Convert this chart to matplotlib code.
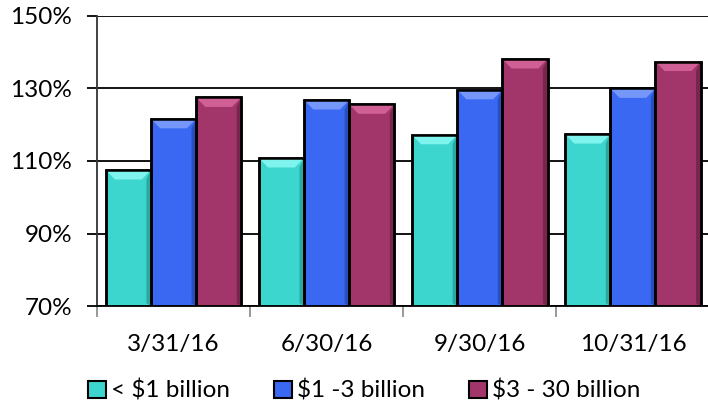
import matplotlib
matplotlib.use("Agg")
import matplotlib.pyplot as plt
from matplotlib.patches import Polygon, Patch
import numpy as np

categories = ["3/31/16", "6/30/16", "9/30/16", "10/31/16"]
series_names = ["< $1 billion", "$1 -3 billion", "$3 - 30 billion"]
small = [107.5, 110.8, 117.2, 117.4]
mid = [121.6, 126.8, 129.6, 130.0]
large = [127.5, 125.6, 138.1, 137.4]
yticks = [70, 90, 110, 130, 150]

colors = ["#3DD6CE", "#3A68F2", "#A2366A"]
light = ["#7FF3EE", "#7597FA", "#D05F95"]
dark = ["#1E8C86", "#1F3F9E", "#5E1B3C"]

plt.rcParams['font.family'] = ['Lato', 'DejaVu Sans']

fig = plt.figure(figsize=(7.08, 4.07), dpi=100)
ax = fig.add_axes([0.137, 0.248, 0.865, 0.713])

x = np.arange(len(categories))
w = 0.295
data = [small, mid, large]
for i, vals in enumerate(data):
    pos = x + (i - 1) * w
    bars = ax.bar(pos, np.array(vals) - 70, w, bottom=70, color=colors[i],
                  edgecolor="black", linewidth=1.8, zorder=3)
    for b in bars:
        x0, x1 = b.get_x(), b.get_x() + b.get_width()
        top = b.get_y() + b.get_height()
        ix = 0.06
        iy = 2.6
        # top bevel
        ax.add_patch(Polygon([(x0, top), (x1, top), (x1 - ix, top - iy), (x0 + ix, top - iy)],
                             closed=True, facecolor=light[i], edgecolor="none", zorder=4))
        # right side shading
        ax.add_patch(Polygon([(x1, top), (x1, 70), (x1 - 0.03, 70.8), (x1 - 0.03, top - iy)],
                             closed=True, facecolor=dark[i], edgecolor="none", alpha=0.6, zorder=4))
        # redraw outline
        ax.add_patch(Polygon([(x0, 70), (x0, top), (x1, top), (x1, 70)], closed=True,
                             facecolor="none", edgecolor="black", linewidth=1.8, zorder=5))

ax.set_ylim(70, 150)
ax.set_xlim(-0.5, 3.5)
ax.set_yticks(yticks)
ax.set_yticklabels([f"{v}%" for v in yticks], fontsize=17.5)
ax.yaxis.grid(True, color="black", linewidth=1.3, zorder=0)
ax.tick_params(axis="y", length=7, width=1.3, color="black", pad=11)

ax.set_xticks(x)
ax.set_xticklabels(categories, fontsize=17.5)
ax.set_xticks(np.arange(-0.5, 4.0, 1.0), minor=True)
ax.tick_params(axis="x", which="major", length=0, pad=20)
ax.tick_params(axis="x", which="minor", length=8, width=1.2, color="#888888")

for s in ["top", "right"]:
    ax.spines[s].set_visible(False)
ax.spines["left"].set_color("#333333")
ax.spines["left"].set_linewidth(1.3)
ax.spines["bottom"].set_linewidth(1.3)

handles = [Patch(facecolor=colors[i], edgecolor="black", linewidth=1.5) for i in range(3)]
fig.legend(handles, series_names, loc="center left", ncol=3, frameon=False,
           fontsize=17.5, bbox_to_anchor=(88 / 708, 1 - 391 / 407), borderpad=0,
           borderaxespad=0, handlelength=0.75, handleheight=0.75,
           handletextpad=0.2, columnspacing=1.8)

fig.savefig("out.png", dpi=100)
